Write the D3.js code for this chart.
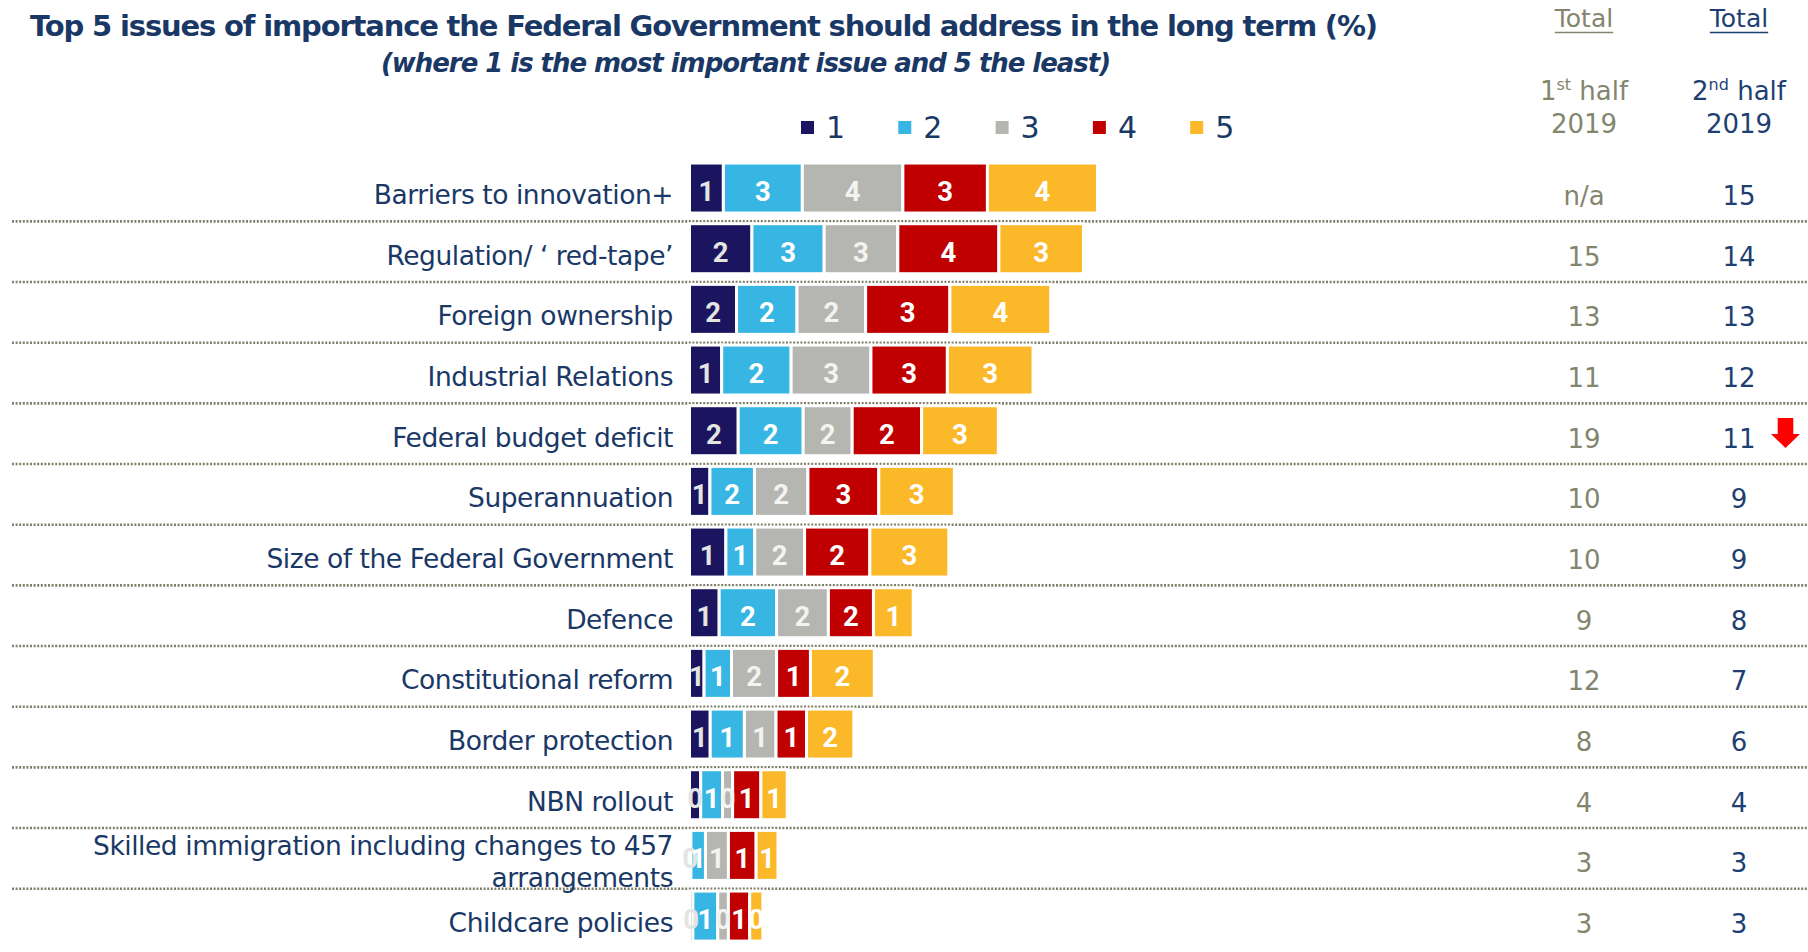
<!DOCTYPE html>
<html>
<head>
<meta charset="utf-8">
<script src="https://cdn.jsdelivr.net/npm/d3@7/dist/d3.min.js"></script>
<style>
  html, body { margin: 0; padding: 0; background: #ffffff; }
  svg { display: block; }
</style>
</head>
<body>
<svg id="chart" width="1808" height="952"></svg>
<script>
// Issues, in display order ("\n" marks a forced line break)
const categories = [
  "Barriers to innovation+",
  "Regulation/ \u2018 red-tape\u2019",
  "Foreign ownership",
  "Industrial Relations",
  "Federal budget deficit",
  "Superannuation",
  "Size of the Federal Government",
  "Defence",
  "Constitutional reform",
  "Border protection",
  "NBN rollout",
  "Skilled immigration including changes to 457\narrangements",
  "Childcare policies"
];

// Share (%) ranking each issue 1st .. 5th, second half 2019
const rank1 = [1.21, 2.23, 1.68, 1.15, 1.74, 0.73, 1.30, 1.06, 0.52, 0.74, 0.40, 0.05, 0.12];
const rank2 = [2.82, 2.58, 2.16, 2.48, 2.32, 1.59, 1.03, 2.05, 0.98, 1.22, 0.78, 0.52, 0.89];
const rank3 = [3.59, 2.63, 2.45, 2.85, 1.75, 1.91, 1.78, 1.85, 1.61, 1.13, 0.36, 0.82, 0.38];
const rank4 = [3.02, 3.61, 3.01, 2.73, 2.48, 2.53, 2.33, 1.61, 1.21, 1.09, 1.01, 0.99, 0.76];
const rank5 = [3.93, 3.02, 3.60, 3.06, 2.74, 2.70, 2.82, 1.42, 2.28, 1.69, 0.94, 0.78, 0.47];

const rankNames = ["1", "2", "3", "4", "5"];
const rankColors = ["#1B1560", "#38B6E3", "#B5B6B1", "#C00000", "#FBB829"];
const rankLabelColors = ["#E3E5E1", "#FFFFFF", "#F3F3F1", "#FFFFFF", "#FFFFFF"];

// Totals shown in the right-hand table
const total1H2019 = ["n/a", "15", "13", "11", "19", "10", "10", "9", "12", "8", "4", "3", "3"];
const total2H2019 = ["15", "14", "13", "12", "11", "9", "9", "8", "7", "6", "4", "3", "3"];
// Significant movement between halves
const movement = ["", "", "", "", "down", "", "", "", "", "", "", "", ""];

const NAVY = "#1A3866";
const OLIVE = "#85856E";
const COL2 = "#1E3F72";
const FONT = "'DejaVu Sans', sans-serif";

const svg = d3.select("#chart");

// ---------- data table for stacking ----------
const ranks = [rank1, rank2, rank3, rank4, rank5];
const rows = categories.map((c, i) => {
  const r = { category: c };
  rankNames.forEach((k, j) => { r[k] = ranks[j][i]; });
  return r;
});
const series = d3.stack().keys(rankNames)(rows);

// ---------- scales ----------
const y = d3.scaleBand().domain(categories).range([157.7, 946.4]).padding(0);
const rowMid = c => y(c) + y.bandwidth() / 2;
const x = d3.scaleLinear().domain([0, 15]).range([689.5, 689.5 + 15 * 28]);
const barH = 50;

// tighten letter spacing so a line of text spans a given width
function fitSpacing(sel, target) {
  sel.attr("letter-spacing", 0);
  const w = sel.node().getComputedTextLength();
  const n = sel.text().length;
  sel.attr("letter-spacing", ((target - w) / n).toFixed(3));
}

// ---------- title ----------
const title = svg.append("text")
  .attr("x", 30).attr("y", 36)
  .attr("font-family", FONT).attr("font-weight", "bold")
  .attr("font-size", 29).attr("fill", NAVY)
  .text("Top 5 issues of importance the Federal Government should address in the long term (%)");
fitSpacing(title, 1347);

const subtitle = svg.append("text")
  .attr("x", 381).attr("y", 72)
  .attr("font-family", FONT).attr("font-weight", "bold").attr("font-style", "italic")
  .attr("font-size", 26).attr("fill", NAVY)
  .text("(where 1 is the most important issue and 5 the least)");
fitSpacing(subtitle, 729);

// ---------- legend ----------
const legendX = d3.scaleBand().domain(rankNames).range([801, 801 + 5 * 97.3]);
const legend = svg.append("g").selectAll("g").data(rankNames).join("g")
  .attr("transform", d => `translate(${legendX(d)},121)`);
legend.append("rect")
  .attr("width", 13).attr("height", 13)
  .attr("fill", (d, i) => rankColors[i]);
legend.append("text")
  .attr("x", 25).attr("y", 16.5)
  .attr("font-family", FONT).attr("font-size", 30).attr("fill", NAVY)
  .text(d => d);

// ---------- table headers ----------
const colX = [1584, 1739];
const colColors = [OLIVE, COL2];
const headers = [["1", "st", "2019"], ["2", "nd", "2019"]];
headers.forEach((h, i) => {
  const t = svg.append("text")
    .attr("x", colX[i]).attr("y", 26.5).attr("text-anchor", "middle")
    .attr("font-family", FONT).attr("font-size", 25).attr("fill", colColors[i])
    .text("Total");
  const w = t.node().getComputedTextLength();
  svg.append("line")
    .attr("x1", colX[i] - w / 2).attr("x2", colX[i] + w / 2)
    .attr("y1", 32.5).attr("y2", 32.5)
    .attr("stroke", colColors[i]).attr("stroke-width", 1.6);

  const half = svg.append("text")
    .attr("x", colX[i]).attr("y", 100).attr("text-anchor", "middle")
    .attr("font-family", FONT).attr("font-size", 26).attr("fill", colColors[i]);
  half.append("tspan").text(h[0]);
  half.append("tspan").attr("font-size", 16).attr("dy", -10).text(h[1]);
  half.append("tspan").attr("dy", 10).text(" half");

  svg.append("text")
    .attr("x", colX[i]).attr("y", 132.7).attr("text-anchor", "middle")
    .attr("font-family", FONT).attr("font-size", 26).attr("fill", colColors[i])
    .text(h[2]);
});

// ---------- dotted row separators ----------
svg.append("g").selectAll("line").data(categories.slice(0, -1)).join("line")
  .attr("x1", 12).attr("x2", 1808)
  .attr("y1", d => y(d) + y.bandwidth() + 3)
  .attr("y2", d => y(d) + y.bandwidth() + 3)
  .attr("stroke", "#7F7F69").attr("stroke-width", 2.6)
  .attr("stroke-dasharray", "2,1.6");

// ---------- category labels ----------
const labelG = svg.append("g");
labelG.selectAll("text").data(categories).join("text")
  .attr("x", 673).attr("text-anchor", "end")
  .attr("font-family", FONT).attr("font-size", 26.5).attr("letter-spacing", -0.45)
  .attr("fill", NAVY)
  .each(function (d) {
    const lines = d.split("\n");
    const base = lines.length > 1 ? rowMid(d) + 0 : rowMid(d) + 16;
    d3.select(this).selectAll("tspan").data(lines).join("tspan")
      .attr("x", 673).attr("y", (l, k) => base + k * 32)
      .text(l => l);
  });

// ---------- stacked bars ----------
const barG = svg.append("g");
series.forEach((s, j) => {
  barG.append("g").selectAll("rect").data(s).join("rect")
    .attr("x", d => x(d[0]))
    .attr("width", d => x(d[1]) - x(d[0]))
    .attr("y", d => rowMid(d.data.category) - barH / 2)
    .attr("height", barH)
    .attr("fill", rankColors[j])
    .attr("stroke", "#ffffff").attr("stroke-width", 3);
});

// value labels, drawn above every bar so small ones may overflow
const fmt = d3.format(".0f");
series.forEach((s, j) => {
  barG.append("g").selectAll("text").data(s).join("text")
    .attr("x", d => (x(d[0]) + x(d[1])) / 2)
    .attr("y", d => rowMid(d.data.category) + 13)
    .attr("text-anchor", "middle")
    .attr("font-family", "Roboto, 'Liberation Sans', sans-serif")
    .attr("font-weight", "bold").attr("font-size", 27.5)
    .attr("fill", rankLabelColors[j])
    .text(d => fmt(d[1] - d[0]));
});

// ---------- totals table ----------
[total1H2019, total2H2019].forEach((col, i) => {
  svg.append("g").selectAll("text").data(col).join("text")
    .attr("x", colX[i])
    .attr("y", (d, k) => rowMid(categories[k]) + 17)
    .attr("text-anchor", "middle")
    .attr("font-family", FONT).attr("font-size", 26).attr("fill", colColors[i])
    .text(d => d);
});

// movement arrows
const arrowDown = "M-7.8,-12.7 L7.8,-12.7 L7.8,3.3 L14.5,3.3 L0,17.3 L-14.5,3.3 L-7.8,3.3 Z";
svg.append("g").selectAll("path")
  .data(movement.map((m, k) => ({ m, c: categories[k] })).filter(d => d.m === "down"))
  .join("path")
  .attr("transform", d => `translate(1785.5,${rowMid(d.c)})`)
  .attr("d", arrowDown)
  .attr("fill", "#FF0000");
</script>
</body>
</html>
